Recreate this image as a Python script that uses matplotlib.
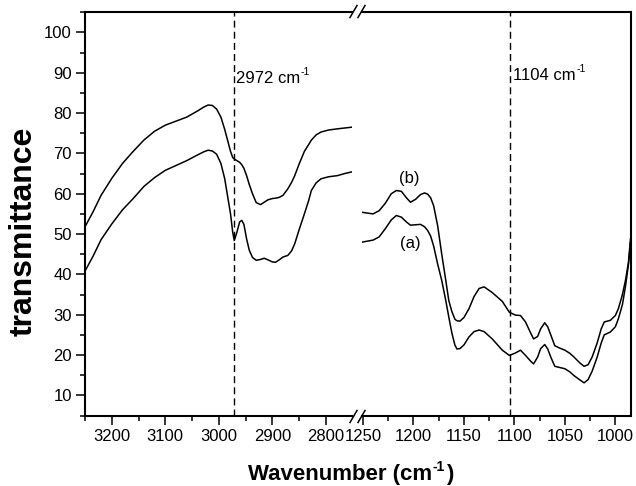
import matplotlib
matplotlib.use('Agg')
from matplotlib import pyplot as plt
from matplotlib.lines import Line2D
from matplotlib.text import Annotation
from matplotlib.ticker import MultipleLocator

plt.rcParams['font.family'] = ['Liberation Sans', 'DejaVu Sans']

# high wavenumber segment (3250 - 2750 cm-1)
wn_hi = [3250, 3235, 3220, 3200, 3180, 3160, 3140, 3120, 3100, 3080, 3060, 3040, 3028, 3020,
         3012, 3004, 2996, 2989, 2983, 2978, 2974, 2971, 2966, 2961, 2957, 2953, 2948, 2943,
         2937, 2930, 2922, 2915, 2908, 2900, 2894, 2887, 2880, 2871, 2864, 2858, 2850, 2840,
         2832, 2827, 2818, 2809, 2795, 2778, 2765, 2752]
a_hi = [40.8, 44.5, 48.6, 52.5, 56.0, 58.8, 61.8, 64.0, 65.8, 67.0, 68.2, 69.6, 70.4, 70.8,
        70.6, 69.8, 67.5, 63.8, 59.0, 55.0, 50.5, 48.4, 50.5, 53.0, 53.4, 52.4, 48.8, 46.0,
        44.2, 43.5, 43.7, 44.0, 43.6, 43.1, 43.0, 43.6, 44.3, 44.7, 45.8, 47.6, 51.0, 55.0,
        58.3, 60.8, 62.7, 63.7, 64.2, 64.5, 65.0, 65.4]
b_hi = [51.8, 55.5, 59.6, 63.8, 67.5, 70.5, 73.3, 75.5, 77.0, 78.0, 79.0, 80.5, 81.5, 82.0,
        81.9, 81.0, 79.0, 76.0, 73.0, 70.5, 69.0, 68.6, 68.2, 67.8, 67.2, 66.3, 64.5, 62.3,
        60.0, 57.8, 57.3, 57.9, 58.5, 58.8, 58.9, 59.1, 59.6, 61.2, 62.8, 64.5, 67.3, 70.5,
        72.2, 73.3, 74.6, 75.3, 75.8, 76.1, 76.3, 76.5]

# low wavenumber segment (1250 - 985 cm-1)
wn_lo = [1251, 1240, 1234, 1228, 1222, 1217, 1212, 1207, 1203, 1198, 1193, 1189, 1186, 1183,
         1180, 1176, 1172, 1168, 1165, 1162, 1159, 1157, 1154, 1150, 1145, 1140, 1135, 1130,
         1122, 1112, 1105, 1099, 1094, 1089, 1084, 1081, 1077, 1074, 1070, 1067, 1064, 1060,
         1055, 1050, 1045, 1041, 1035, 1031, 1027, 1023, 1018, 1014, 1011, 1005, 1000, 997,
         993, 990, 987, 985]
a_lo = [48.0, 48.5, 49.3, 51.3, 53.5, 54.6, 54.2, 53.0, 52.2, 52.3, 52.4, 51.8, 50.9, 49.5,
        47.0, 42.5, 38.5, 33.5, 29.4, 25.5, 22.5, 21.5, 21.6, 22.5, 24.5, 25.8, 26.2, 25.8,
        24.0, 21.2, 19.9, 20.5, 21.2, 19.9, 18.5, 17.8, 19.5, 21.6, 22.6, 21.5, 19.5, 17.2,
        16.9, 16.6, 15.8, 14.9, 13.8, 13.1, 13.9, 16.0, 19.5, 23.0, 25.0, 25.7, 27.0, 29.0,
        32.5, 37.0, 42.5, 48.0]
b_lo = [55.4, 55.0, 55.8, 57.6, 60.0, 60.8, 60.6, 59.0, 57.9, 58.6, 59.8, 60.2, 59.9, 59.0,
        57.0, 52.0, 45.0, 38.5, 33.5, 30.8, 28.9, 28.5, 28.4, 29.3, 31.5, 34.5, 36.5, 36.9,
        35.5, 33.3, 30.6, 29.9, 29.8, 28.2, 25.5, 24.0, 24.6, 26.5, 28.0, 27.0, 25.0, 22.3,
        21.7, 21.2, 20.4, 19.5, 18.0, 17.2, 17.6, 19.5, 23.0, 26.5, 28.2, 28.6, 29.8, 31.5,
        35.0, 38.5, 43.0, 48.8]

marks = [2972, 1104]

fig = plt.figure(figsize=(6.36, 4.86), dpi=100)
W, H = 636.0, 486.0
bot = 1 - 415.5 / H
hgt = (415.5 - 12.3) / H
ax1 = fig.add_axes([85 / W, bot, (352 - 85) / W, hgt])
ax2 = fig.add_axes([362 / W, bot, (630.5 - 362) / W, hgt], sharey=ax1)

for ax, wn, a, b in [(ax1, wn_hi, a_hi, b_hi), (ax2, wn_lo, a_lo, b_lo)]:
    ax.plot(wn, b, color='black', lw=1.1)
    ax.plot(wn, a, color='black', lw=1.1)
    for s in ax.spines.values():
        s.set_linewidth(1.5)
    ax.tick_params(which='major', direction='out', length=6.5, width=1.1, labelsize=12, pad=3)
    ax.tick_params(which='minor', direction='out', length=3.6, width=1.1)
    ax.tick_params(top=False, right=False)

ax1.set_xlim(3250, 2751)
ax2.set_xlim(1251, 985)
ax1.set_ylim(5, 105)
ax1.xaxis.set_major_locator(MultipleLocator(100))
ax1.xaxis.set_minor_locator(MultipleLocator(50))
ax2.xaxis.set_major_locator(MultipleLocator(50))
ax2.xaxis.set_minor_locator(MultipleLocator(25))
ax1.yaxis.set_major_locator(MultipleLocator(10))
ax1.yaxis.set_minor_locator(MultipleLocator(5))
ax1.set_yticks(range(10, 101, 10))
ax1.spines['right'].set_visible(False)
ax2.spines['left'].set_visible(False)
ax2.tick_params(axis='y', which='both', left=False, labelleft=False)

ax1.axvline(marks[0], color='black', lw=1.0, ls=(0, (5, 3)))
ax2.axvline(marks[1], color='black', lw=1.0, ls=(0, (5, 3)))

# annotations with a raised "-1"
t1 = ax1.text(2968, 88.6, '2972 cm', fontsize=12, va='center', ha='left')
ax1.annotate('-1', xy=(1.0, 1.0), xycoords=t1, xytext=(0.5, 3), textcoords='offset points',
             fontsize=7.5, ha='left', va='top')
t2 = ax2.text(1101, 89.3, '1104 cm', fontsize=12, va='center', ha='left')
ax2.annotate('-1', xy=(1.0, 1.0), xycoords=t2, xytext=(0.5, 3), textcoords='offset points',
             fontsize=7.5, ha='left', va='top')

ax2.text(1204, 63.8, '(b)', fontsize=12, ha='center', va='center')
ax2.text(1203, 47.7, '(a)', fontsize=12, ha='center', va='center')

# axis break marks
for yc in [11.5, 416.5]:
    for xc in [353.5, 361.5]:
        fig.add_artist(Line2D([(xc - 3.5) / W, (xc + 3.5) / W],
                              [1 - (yc + 6) / H, 1 - (yc - 6) / H],
                              color='black', lw=1.1, transform=fig.transFigure))

xl = fig.text(248 / W, 1 - 480 / H, 'Wavenumber (cm', fontsize=16, fontweight='bold',
              ha='left', va='baseline')
xs = fig.add_artist(Annotation('-1', xy=(1.0, 1.0), xycoords=xl, xytext=(0.5, 3),
                               textcoords='offset points', fontsize=10, fontweight='bold',
                               ha='left', va='top'))
fig.add_artist(Annotation(')', xy=(1.0, 0.0), xycoords=(xs, xl), xytext=(0.5, 0),
                          textcoords='offset points', fontsize=16, fontweight='bold',
                          ha='left', va='bottom'))
fig.text(24 / W, 1 - 231 / H, 'transmittance', fontsize=23, fontweight='bold', rotation=90,
         ha='center', va='center')

fig.savefig('out.png', dpi=100)
